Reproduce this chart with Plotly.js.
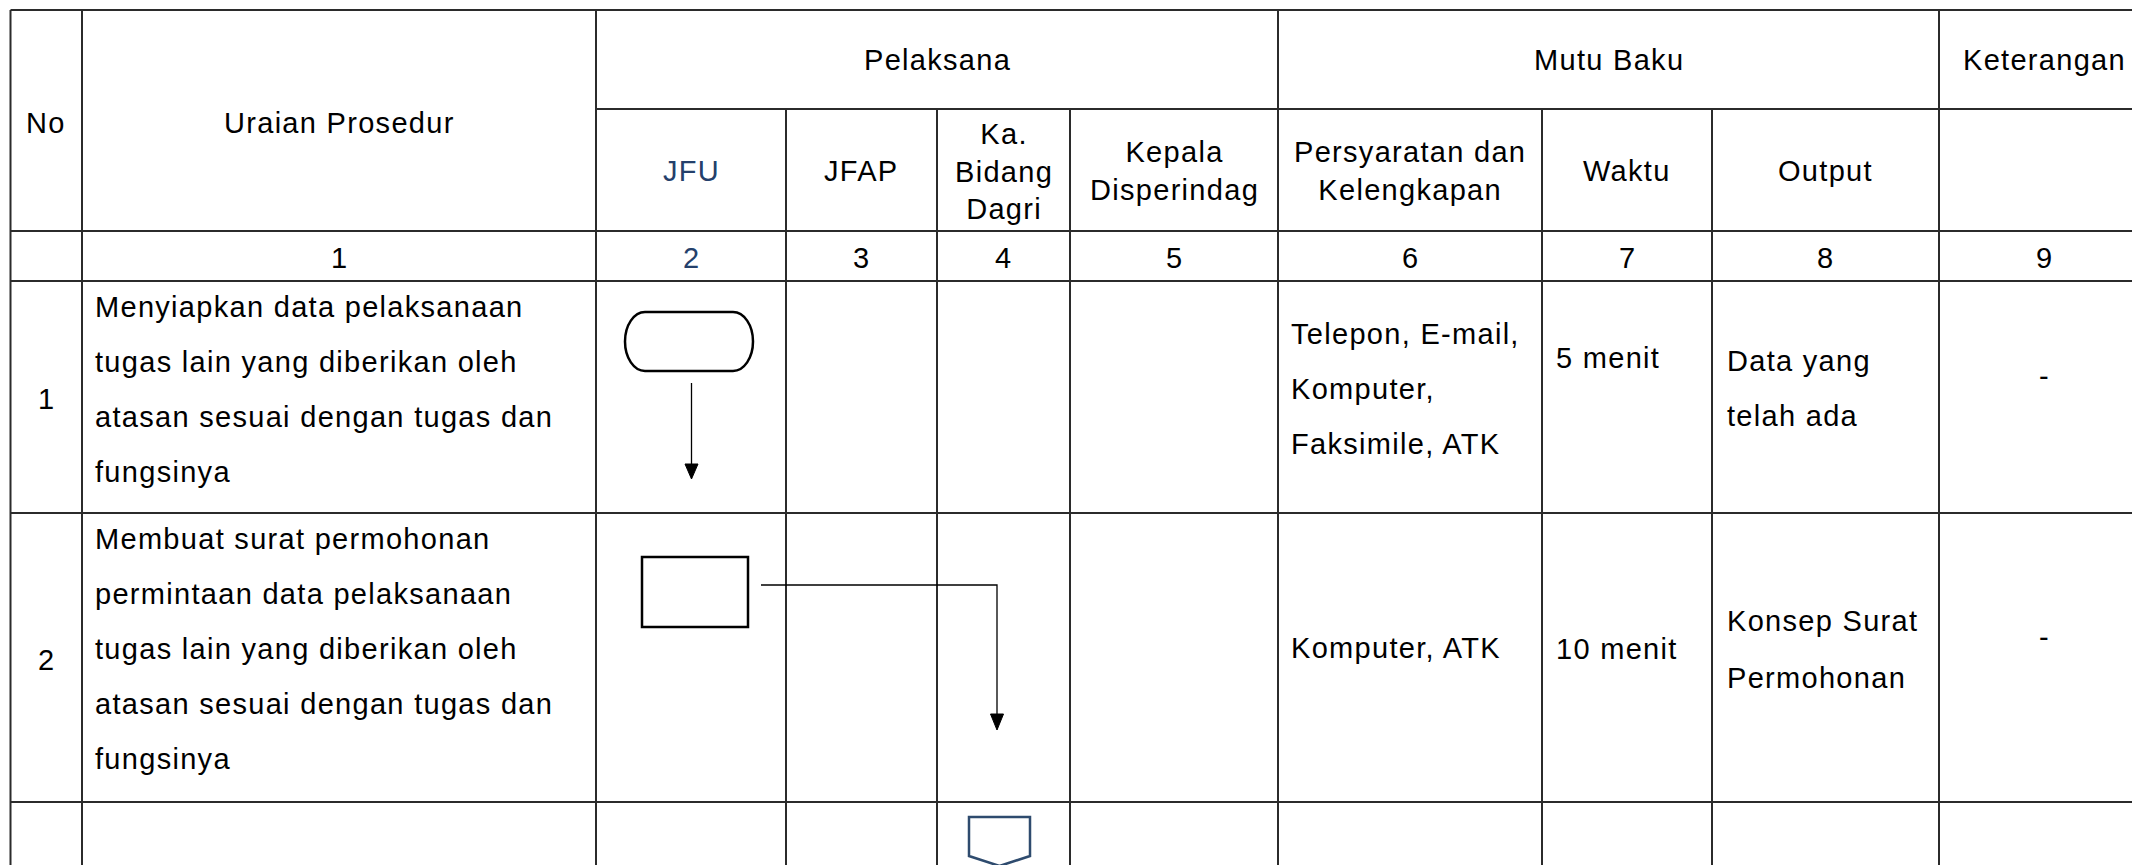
<!DOCTYPE html>
<html>
<head>
<meta charset="utf-8">
<script src="https://cdn.plot.ly/plotly-3.0.1.min.js"></script>
<style>
html,body{margin:0;padding:0;background:#ffffff;overflow:hidden}
#chart{width:2132px;height:865px}
.annotation-text{letter-spacing:1.3px}
</style>
</head>
<body>
<div id="chart"></div>
<script>
// ---------- content (data) ----------
const headNo = "No";
const headUraian = "Uraian Prosedur";
const headGroups = ["Pelaksana", "Mutu Baku", "Keterangan"];
const headSub = ["JFU", "JFAP", "Ka.<br>Bidang<br>Dagri", "Kepala<br>Disperindag",
                 "Persyaratan dan<br>Kelengkapan", "Waktu", "Output", ""];
const colNumbers = ["", "1", "2", "3", "4", "5", "6", "7", "8", "9"];
const rowNumbers = ["1", "2"];
const uraian = [
  ["Menyiapkan data pelaksanaan", "tugas lain yang diberikan oleh",
   "atasan sesuai dengan tugas dan", "fungsinya"],
  ["Membuat surat permohonan", "permintaan data pelaksanaan",
   "tugas lain yang diberikan oleh", "atasan sesuai dengan tugas dan", "fungsinya"]
];
const persyaratan = [
  ["Telepon, E-mail,", "Komputer,", "Faksimile, ATK"],
  ["Komputer, ATK"]
];
const waktu = ["5 menit", "10 menit"];
const outputs = [
  ["Data yang", "telah ada"],
  ["Konsep Surat", "Permohonan"]
];
const keterangan = ["-", "-"];

// ---------- layout geometry (pixels in the 2132 x 865 frame) ----------
const W = 2132, H = 865;
const FONT = '"Liberation Sans", Arial, sans-serif';
const FS = 29;
const LINEC = '#2b2b2b';
const BLUE = '#24406b';
const SHAPEBLUE = '#2e4b6e';
const colX = [10.5, 82, 596, 786, 937, 1070, 1278, 1542, 1712, 1939, 2149];
const yTop = 10, yGroup = 109, yHead = 231, yNum = 281, yRow1 = 513, yRow2 = 802;
const LS = 55; // body line spacing

const shapes = [];
const ann = [];

function hline(y, x0, x1, w) {
  shapes.push({type:'line', xref:'x', yref:'y', x0:x0, x1:x1, y0:y, y1:y,
               line:{color:LINEC, width:w || 2}});
}
function vline(x, y0, y1, w) {
  shapes.push({type:'line', xref:'x', yref:'y', x0:x, x1:x, y0:y0, y1:y1,
               line:{color:LINEC, width:w || 2}});
}
function txt(text, x, y, anchor, color) {
  ann.push({text:text, x:x, y:y, xref:'x', yref:'y', xanchor:anchor, yanchor:'middle',
            align:(anchor === 'left' ? 'left' : 'center'), showarrow:false,
            borderpad:0, borderwidth:0,
            font:{family:FONT, size:FS, color:color || '#000000'}});
}
const mid = (a, b) => (a + b) / 2;

// ---- grid lines ----
hline(yTop, colX[0], W);
hline(yGroup, colX[2], W);
[yHead, yNum, yRow1, yRow2].forEach(y => hline(y, colX[0], W));
[colX[0], colX[1], colX[2], colX[6], colX[9]].forEach(x => vline(x, yTop, H));
[colX[3], colX[4], colX[5], colX[7], colX[8]].forEach(x => vline(x, yGroup, H));

// ---- header texts ----
txt(headNo, mid(colX[0], colX[1]), 123, 'center');
txt(headUraian, mid(colX[1], colX[2]), 123, 'center');
txt(headGroups[0], mid(colX[2], colX[6]), 60, 'center');
txt(headGroups[1], mid(colX[6], colX[9]), 60, 'center');
txt(headGroups[2], mid(colX[9], colX[10]), 60, 'center');
headSub.forEach((t, i) => {
  if (t) txt(t, mid(colX[i + 2], colX[i + 3]), 171, 'center', i === 0 ? BLUE : '#000000');
});
colNumbers.forEach((t, i) => {
  if (t) txt(t, mid(colX[i], colX[i + 1]), 258, 'center', i === 2 ? BLUE : '#000000');
});

// ---- body texts ----
const rowMidY = [398.5, 659.5];
const uraianFirst = [306.7, 539.3];
const persFirst = [333.7, 648.3];
const waktuY = [357.5, 649];
const outFirst = [361, 621];
const ketY = [376, 637];
for (let r = 0; r < 2; r++) {
  txt(rowNumbers[r], mid(colX[0], colX[1]), rowMidY[r], 'center');
  uraian[r].forEach((t, k) => txt(t, 95, uraianFirst[r] + k * LS, 'left'));
  persyaratan[r].forEach((t, k) => txt(t, 1291, persFirst[r] + k * LS, 'left'));
  txt(waktu[r], 1555.5, waktuY[r], 'left');
  outputs[r].forEach((t, k) => txt(t, 1726.5, outFirst[r] + k * (LS + (r ? 1.5 : 0)), 'left'));
  txt(keterangan[r], mid(colX[9], colX[10]), ketY[r], 'center');
}

// ---- flowchart symbols ----
// terminator (start)
(function () {
  const x0 = 625, x1 = 753, y0 = 312, y1 = 371, rx = 20, ry = (y1 - y0) / 2, k = 0.5523;
  const ym = (y0 + y1) / 2;
  const p = `M ${x0 + rx} ${y0} L ${x1 - rx} ${y0} ` +
    `C ${x1 - rx + k * rx} ${y0} ${x1} ${ym - k * ry} ${x1} ${ym} ` +
    `C ${x1} ${ym + k * ry} ${x1 - rx + k * rx} ${y1} ${x1 - rx} ${y1} ` +
    `L ${x0 + rx} ${y1} ` +
    `C ${x0 + rx - k * rx} ${y1} ${x0} ${ym + k * ry} ${x0} ${ym} ` +
    `C ${x0} ${ym - k * ry} ${x0 + rx - k * rx} ${y0} ${x0 + rx} ${y0} Z`;
  shapes.push({type:'path', xref:'x', yref:'y', path:p, line:{color:'#000000', width:2.5}});
})();
// arrow 1 (down)
shapes.push({type:'line', xref:'x', yref:'y', x0:691.5, x1:691.5, y0:383, y1:466,
             line:{color:'#000000', width:1.3}});
shapes.push({type:'path', xref:'x', yref:'y', path:'M 685 464 L 698 464 L 691.5 479 Z',
             fillcolor:'#000000', line:{color:'#000000', width:1}});
// process box
shapes.push({type:'rect', xref:'x', yref:'y', x0:642, x1:748, y0:557, y1:627,
             line:{color:'#000000', width:2.5}});
// connector to Ka. Bidang Dagri
shapes.push({type:'path', xref:'x', yref:'y', path:'M 761 585 L 997 585 L 997 716',
             line:{color:'#000000', width:1.3}});
shapes.push({type:'path', xref:'x', yref:'y', path:'M 990.5 714 L 1003.5 714 L 997 730 Z',
             fillcolor:'#000000', line:{color:'#000000', width:1}});
// off-page connector
shapes.push({type:'path', xref:'x', yref:'y', path:'M 969 817 L 1030 817 L 1030 856 L 999.5 866 L 969 856 Z',
             line:{color:SHAPEBLUE, width:2.5}});

const data = [{x:[], y:[], type:'scatter', mode:'markers', hoverinfo:'skip', showlegend:false}];
const layout = {
  width: W, height: H,
  margin: {l:0, r:0, t:0, b:0, pad:0},
  paper_bgcolor: '#ffffff', plot_bgcolor: '#ffffff',
  showlegend: false,
  xaxis: {range:[0, W], visible:false, showgrid:false, zeroline:false, fixedrange:true},
  yaxis: {range:[H, 0], visible:false, showgrid:false, zeroline:false, fixedrange:true},
  shapes: shapes,
  annotations: ann
};
Plotly.newPlot('chart', data, layout, {staticPlot:true, displayModeBar:false});
</script>
</body>
</html>
